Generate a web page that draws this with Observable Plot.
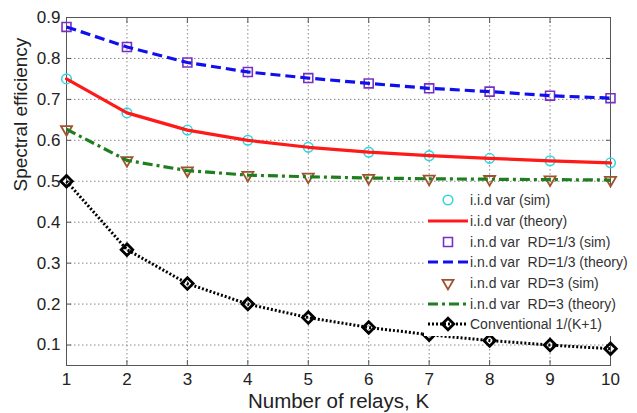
<!DOCTYPE html>
<html><head><meta charset="utf-8">
<script src="https://cdn.jsdelivr.net/npm/d3@7"></script>
<script src="https://cdn.jsdelivr.net/npm/@observablehq/plot@0.6"></script>
<style>
body{margin:0;background:#fff;}
#wrap{position:relative;width:637px;height:413px;}
#wrap > svg{position:absolute;left:0;top:0;}
</style></head><body><div id="wrap"></div>
<script>
// ---- data ----
const K = [1, 2, 3, 4, 5, 6, 7, 8, 9, 10];
const iidSim       = [0.75, 0.667, 0.625, 0.60, 0.583, 0.571, 0.5625, 0.556, 0.55, 0.545];
const iidTheory    = [0.75, 0.667, 0.625, 0.60, 0.583, 0.571, 0.5625, 0.556, 0.55, 0.545];
const rd13Sim      = [0.877, 0.828, 0.79, 0.767, 0.752, 0.739, 0.727, 0.719, 0.709, 0.703];
const rd13Theory   = [0.877, 0.828, 0.79, 0.767, 0.752, 0.739, 0.727, 0.719, 0.709, 0.703];
const rd3Sim       = [0.627, 0.551, 0.526, 0.515, 0.511, 0.508, 0.506, 0.505, 0.504, 0.503];
const rd3Theory    = [0.627, 0.551, 0.526, 0.515, 0.511, 0.508, 0.506, 0.505, 0.504, 0.503];
const conventional = [0.5, 0.333, 0.25, 0.2, 0.167, 0.143, 0.125, 0.111, 0.1, 0.0909];
const xTicks = [1, 2, 3, 4, 5, 6, 7, 8, 9, 10];
const yTicks = [0.1, 0.2, 0.3, 0.4, 0.5, 0.6, 0.7, 0.8, 0.9];
const legendLabels = [
  "i.i.d var (sim)",
  "i.i.d var (theory)",
  "i.n.d var\u00a0 RD=1/3 (sim)",
  "i.n.d var\u00a0 RD=1/3 (theory)",
  "i.n.d var\u00a0 RD=3 (sim)",
  "i.n.d var\u00a0 RD=3 (theory)",
  "Conventional 1/(K+1)"
];

const rows = K.map((k, i) => ({
  k, iidSim: iidSim[i], iidTheory: iidTheory[i], rd13Sim: rd13Sim[i],
  rd13Theory: rd13Theory[i], rd3Sim: rd3Sim[i], rd3Theory: rd3Theory[i], conv: conventional[i]
}));

const C = {
  cyan: "#33d6e0", red: "#ff1a1a", purple: "#7a2fc4", blue: "#1010ee",
  brown: "#a0522d", green: "#1f7f1f", black: "#000"
};
const dashBlue = "10,5";
const dashGreen = "10,4,3,4";
const dashBlack = "2,2";

const triDown = {
  draw(ctx, size) {
    const s = Math.sqrt(size) * 0.6824, t = s / 2, u = s * Math.sqrt(3) / 2;
    ctx.moveTo(0, s); ctx.lineTo(u, -t); ctx.lineTo(-u, -t); ctx.closePath();
  }
};
const font = "Liberation Sans, Arial, Helvetica, sans-serif";

const chart = Plot.plot({
  width: 637, height: 413,
  marginLeft: 66, marginRight: 27, marginTop: 17, marginBottom: 48,
  x: {domain: [1, 10]},
  y: {domain: [0.05, 0.9]},
  style: {fontFamily: font, fontSize: "17px", color: "#222", background: "#fff"},
  marks: [
    Plot.gridX(xTicks, {stroke: "#888", strokeOpacity: 1, strokeDasharray: "1.5,2.5"}),
    Plot.gridY(yTicks, {stroke: "#888", strokeOpacity: 1, strokeDasharray: "1.5,2.5"}),
    Plot.frame({stroke: "#555"}),
    Plot.axisX(xTicks, {anchor: "bottom", tickSize: -5, tickPadding: 12, label: null, stroke: "#555", fill: "#222", fontSize: 17}),
    Plot.axisX(xTicks, {anchor: "top", tickSize: -5, tickFormat: () => "", label: null, stroke: "#555"}),
    Plot.axisY(yTicks, {anchor: "left", tickSize: -5, tickPadding: 11, label: null, stroke: "#555", fill: "#222", fontSize: 17}),
    Plot.axisY(yTicks, {anchor: "right", tickSize: -5, tickFormat: () => "", label: null, stroke: "#555"}),
    Plot.text(["Number of relays, K"], {frameAnchor: "bottom", dy: 42, fontSize: 20.5, fill: "#222"}),
    Plot.text(["Spectral efficiency"], {frameAnchor: "left", dx: -46, rotate: -90, fontSize: 19, fill: "#222"}),
    // simulated markers
    Plot.dot(rows, {x: "k", y: "iidSim", r: 4.8, symbol: "circle", fill: "none", stroke: C.cyan, strokeWidth: 1.6}),
    Plot.dot(rows, {x: "k", y: "rd13Sim", r: 5.7, symbol: "square2", fill: "none", stroke: C.purple, strokeWidth: 1.6}),
    Plot.dot(rows, {x: "k", y: "rd3Sim", r: 5.3, symbol: triDown, fill: "none", stroke: C.brown, strokeWidth: 1.8}),
    // theory lines
    Plot.line(rows, {x: "k", y: "iidTheory", stroke: C.red, strokeWidth: 3.2}),
    Plot.line(rows, {x: "k", y: "rd13Theory", stroke: C.blue, strokeWidth: 3.2, strokeDasharray: dashBlue, strokeLinecap: "butt"}),
    Plot.line(rows, {x: "k", y: "rd3Theory", stroke: C.green, strokeWidth: 3.2, strokeDasharray: dashGreen, strokeLinecap: "butt"}),
    // conventional
    Plot.line(rows, {x: "k", y: "conv", stroke: C.black, strokeWidth: 3, strokeDasharray: dashBlack, strokeLinecap: "butt"}),
    Plot.dot(rows, {x: "k", y: "conv", r: 5.2, symbol: "diamond2", fill: "none", stroke: C.black, strokeWidth: 2.8})
  ]
});
const wrap = document.getElementById("wrap");
wrap.appendChild(chart);

// ---- legend overlay ----
const lg = d3.select(wrap).append("svg")
  .attr("width", 637).attr("height", 413)
  .style("position", "absolute").style("left", "0px").style("top", "0px")
  .style("pointer-events", "none");
lg.append("rect").attr("x", 424).attr("y", 188).attr("width", 213).attr("height", 148).attr("fill", "#fff");
const spec = [
  {marker: d3.symbolCircle, r: 4.8, color: C.cyan, sw: 1.6},
  {line: C.red, dash: null},
  {marker: d3.symbolSquare2, r: 5.7, color: C.purple, sw: 1.6},
  {line: C.blue, dash: dashBlue},
  {marker: triDown, r: 5.3, color: C.brown, sw: 1.8},
  {line: C.green, dash: dashGreen},
  {line: C.black, dash: dashBlack, lw: 3, marker: d3.symbolDiamond2, r: 5.2, color: C.black, sw: 2.8}
];
const rowY = [200, 221, 242, 262, 283, 304, 324];
spec.forEach((s, i) => {
  const y = rowY[i];
  if (s.line) {
    lg.append("line").attr("x1", 428).attr("x2", 468).attr("y1", y).attr("y2", y)
      .attr("stroke", s.line).attr("stroke-width", s.lw || 3.2)
      .attr("stroke-dasharray", s.dash).attr("stroke-linecap", "butt");
  }
  if (s.marker) {
    lg.append("path").attr("transform", `translate(448,${y})`)
      .attr("d", d3.symbol(s.marker, s.r * s.r * Math.PI)())
      .attr("fill", "none").attr("stroke", s.color).attr("stroke-width", s.sw);
  }
  lg.append("text").attr("x", 470).attr("y", y).attr("dy", "0.35em")
    .attr("font-family", font).attr("font-size", 14).attr("fill", "#333")
    .text(legendLabels[i]);
});
</script>
</body></html>
